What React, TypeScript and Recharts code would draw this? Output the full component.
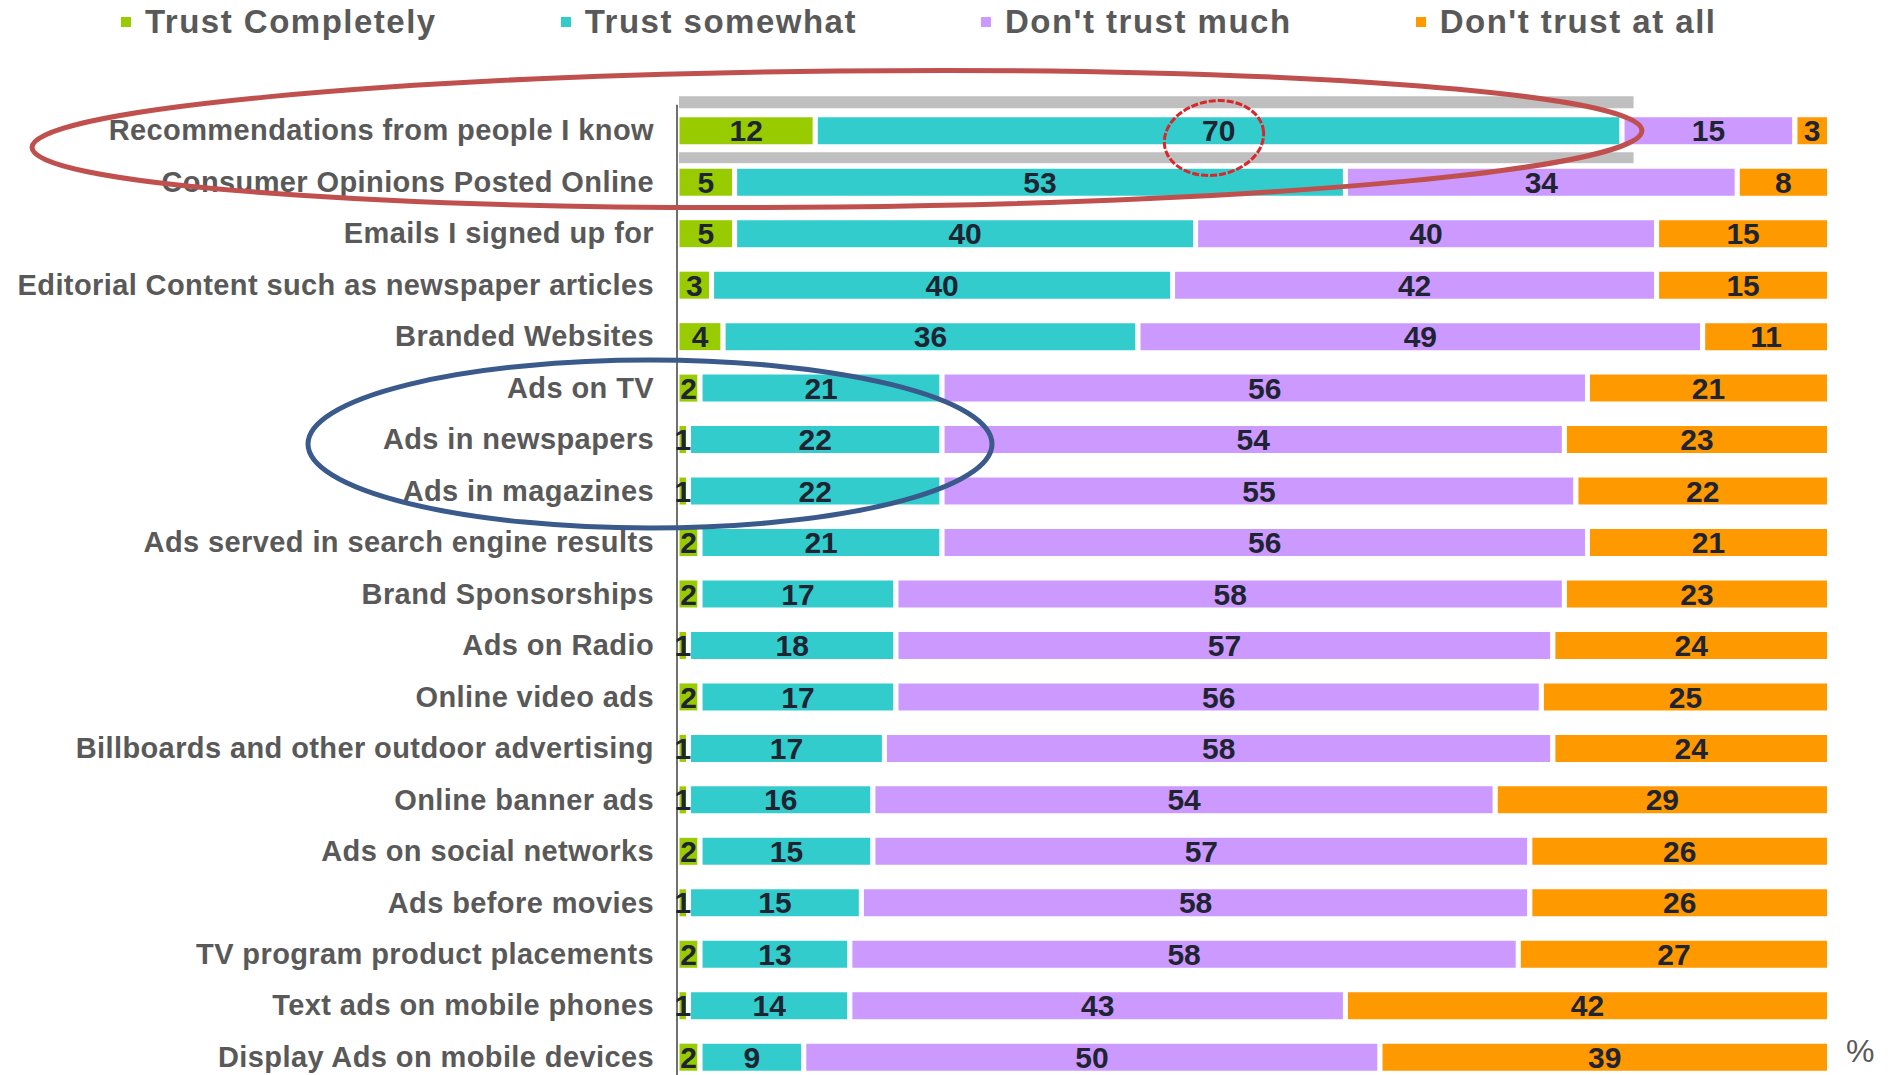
import { BarChart, Bar, XAxis, YAxis, LabelList } from "recharts";

const categories = [
  "Recommendations from people I know",
  "Consumer Opinions Posted Online",
  "Emails I signed up for",
  "Editorial Content such as newspaper articles",
  "Branded Websites",
  "Ads on TV",
  "Ads in newspapers",
  "Ads in magazines",
  "Ads served in search engine results",
  "Brand Sponsorships",
  "Ads on Radio",
  "Online video ads",
  "Billboards and other outdoor advertising",
  "Online banner ads",
  "Ads on social networks",
  "Ads before movies",
  "TV program product placements",
  "Text ads on mobile phones",
  "Display Ads on mobile devices",
];

const trustCompletely = [12, 5, 5, 3, 4, 2, 1, 1, 2, 2, 1, 2, 1, 1, 2, 1, 2, 1, 2];
const trustSomewhat = [70, 53, 40, 40, 36, 21, 22, 22, 21, 17, 18, 17, 17, 16, 15, 15, 13, 14, 9];
const dontTrustMuch = [15, 34, 40, 42, 49, 56, 54, 55, 56, 58, 57, 56, 58, 54, 57, 58, 58, 43, 50];
const dontTrustAtAll = [3, 8, 15, 15, 11, 21, 23, 22, 21, 23, 24, 25, 24, 29, 26, 26, 27, 42, 39];

// grey band drawn above and below the first row (covers 12 + 70)
const highlight = [83, 0, 0, 0, 0, 0, 0, 0, 0, 0, 0, 0, 0, 0, 0, 0, 0, 0, 0];

const series = [
  { key: "trustCompletely", name: "Trust Completely", color: "#99cc00" },
  { key: "trustSomewhat", name: "Trust somewhat", color: "#33cccc" },
  { key: "dontTrustMuch", name: "Don't trust much", color: "#cc99ff" },
  { key: "dontTrustAtAll", name: "Don't trust at all", color: "#ff9900" },
];

const data = categories.map((name, i) => ({
  name,
  trustCompletely: trustCompletely[i],
  trustSomewhat: trustSomewhat[i],
  dontTrustMuch: dontTrustMuch[i],
  dontTrustAtAll: dontTrustAtAll[i],
  highlight: highlight[i],
}));

const FONT = '"Liberation Sans", Arial, sans-serif';

const GreenShape = (props: any) => {
  const { x, y, width, height, fill, payload } = props;
  const unit = width / payload.trustCompletely;
  return (
    <g>
      {payload.highlight > 0 && (
        <>
          <rect x={x + 2} y={y - 18.5} width={unit * payload.highlight - 2} height={12} fill="#bfbfbf" />
          <rect x={x + 2} y={y + 37.5} width={unit * payload.highlight - 2} height={11} fill="#bfbfbf" />
        </>
      )}
      <rect x={x} y={y} width={width} height={height} fill={fill} stroke="#fff" strokeWidth={5} />
    </g>
  );
};

const CategoryTick = (props: any) => {
  const { x, y, payload } = props;
  return (
    <text
      x={x}
      y={y}
      dy={10}
      textAnchor="end"
      fill="#595959"
      fontSize={29}
      fontWeight="bold"
      letterSpacing={0.4}
      fontFamily={FONT}
    >
      {payload.value}
    </text>
  );
};

export default function App() {
  return (
    <div
      style={{
        position: "absolute",
        top: 0,
        left: 0,
        width: 1892,
        height: 1075,
        overflow: "hidden",
        background: "#fff",
        fontFamily: FONT,
      }}
    >
      <div style={{ position: "absolute", top: 3, left: 121, display: "flex", gap: 124, alignItems: "center" }}>
        {series.map((s) => (
          <div key={s.key} style={{ display: "flex", alignItems: "center" }}>
            <div style={{ width: 10, height: 10, background: s.color, marginRight: 14 }} />
            <span style={{ fontSize: 33, fontWeight: "bold", color: "#595959", letterSpacing: 1.5 }}>{s.name}</span>
          </div>
        ))}
      </div>

      <BarChart
        width={1892}
        height={1090}
        data={data}
        layout="vertical"
        margin={{ top: 104.76, right: 62.5, bottom: 7.34, left: 0 }}
      >
        <XAxis type="number" domain={[0, 100]} hide />
        <YAxis
          type="category"
          dataKey="name"
          width={677}
          tickLine={false}
          tickSize={0}
          tickMargin={23}
          axisLine={{ stroke: "#404040", strokeWidth: 1.5 }}
          tick={<CategoryTick />}
          interval={0}
        />
        {series.map((s) => (
          <Bar
            key={s.key}
            dataKey={s.key}
            name={s.name}
            stackId="a"
            fill={s.color}
            stroke="#fff"
            strokeWidth={5}
            barSize={32}
            isAnimationActive={false}
            shape={s.key === "trustCompletely" ? <GreenShape /> : undefined}
          >
            <LabelList
              dataKey={s.key}
              position="center"
              fill="#1f2433"
              fontSize={30}
              fontWeight="bold"
              fontFamily={FONT}
            />
          </Bar>
        ))}
      </BarChart>

      <div style={{ position: "absolute", left: 1846, top: 1033, fontSize: 32, lineHeight: "36px", color: "#595959" }}>%</div>

      <svg
        width={1892}
        height={1075}
        style={{ position: "absolute", top: 0, left: 0, pointerEvents: "none" }}
      >
        <ellipse cx={837} cy={139} rx={805} ry={68} fill="none" stroke="#c0504d" strokeWidth={5} transform="rotate(-0.6 837 139)" />
        <ellipse cx={1214} cy={138} rx={50} ry={37} fill="none" stroke="#d9262b" strokeWidth={3} strokeDasharray="7 2" transform="rotate(-10 1214 138)" />
        <ellipse cx={650} cy={444} rx={342} ry={84} fill="none" stroke="#3a5a8c" strokeWidth={5} />
      </svg>
    </div>
  );
}
